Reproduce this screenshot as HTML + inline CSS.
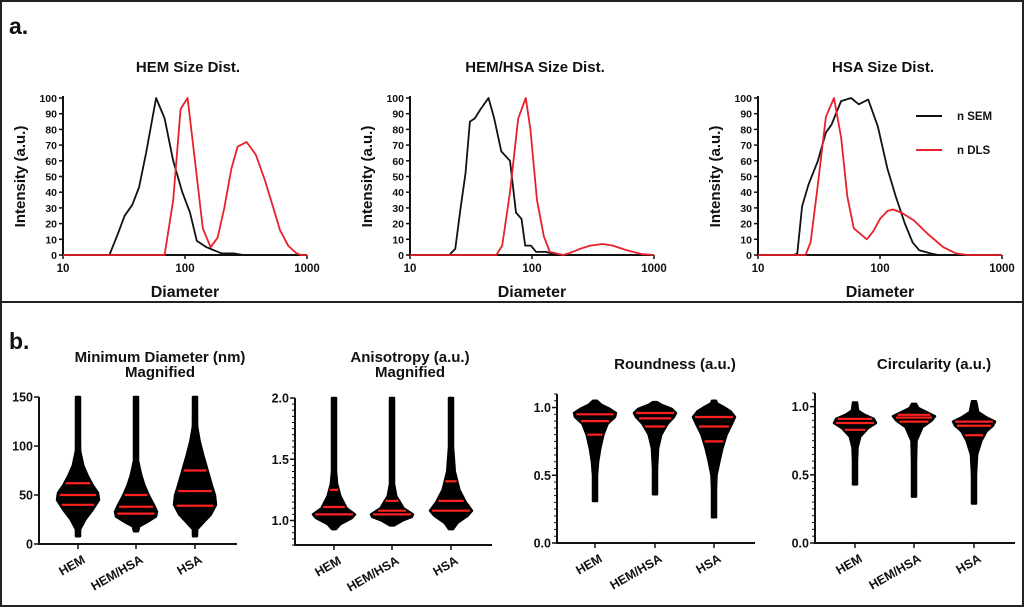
<!DOCTYPE html>
<html><head><meta charset="utf-8">
<style>
html,body{margin:0;padding:0;background:#fff;}
svg{display:block;font-family:"Liberation Sans",Arial,sans-serif;}
text{font-weight:bold;fill:#111;}
</style></head>
<body>
<svg id="fig" width="1024" height="607" viewBox="0 0 1024 607" xmlns="http://www.w3.org/2000/svg">
  <rect x="1" y="1" width="1022" height="605" fill="none" stroke="#222" stroke-width="2"/>
  <line x1="0" y1="302" x2="1024" y2="302" stroke="#222" stroke-width="2"/>
  <text x="9" y="34" font-size="23">a.</text>
  <text x="9" y="349" font-size="23">b.</text>
  <g id="topg"></g>
  <g id="botg"></g>
</svg>
<script>
// ---- Size distribution data ----
const xTickLabels = ["10","100","1000"];
const yTickLabels = [0,10,20,30,40,50,60,70,80,90,100];
const chartTitles = ["HEM Size Dist.","HEM/HSA Size Dist.","HSA Size Dist."];
const hemSemDiam = [10,24,28,32,37,42,48,58,68,80,95,110,125,150,200,250,300,1000];
const hemSemInt  = [0,0,13,25,32,43,65,100,87,60,40,27,9,5,1,1,0,0];
const hemDlsDiam = [10,68,80,92,105,125,140,162,185,210,240,270,320,380,450,520,600,700,820,900,1000];
const hemDlsInt  = [0,0,35,93,100,50,17,5,11,30,55,69,72,64,48,32,16,6,1,0,0];
const mixSemDiam = [10,21,23.5,26,28.5,31,34,38,44,49,56,66,74,82,88,98,108,130,160,1000];
const mixSemInt  = [0,0,4,30,52,85,87,93,100,87,66,60,27,23,6,6,2,2,0,0];
const mixDlsDiam = [10,51,57,66,77,89,97,110,125,140,180,200,250,300,380,460,600,800,1000];
const mixDlsInt  = [0,0,6,40,87,100,80,35,12,2,0,1,4,6,7,6,3,0.5,0];
const hsaSemDiam = [10,19.7,21,23,26,31,36,40,48,58,67,80,96,115,135,160,185,210,260,300,1000];
const hsaSemInt  = [0,0,1,31,45,60,78,83,98,100,96,99,82,55,37,20,8,3,1,0,0];
const hsaDlsDiam = [10,24.5,27,31,36,42,48,54,61,78,88,100,115,128,150,190,250,330,420,520,1000];
const hsaDlsInt  = [0,0,8,45,88,100,75,37,17,10,15,23,28,29,27,22,13,5,1,0,0];
const legendLabels = ["n SEM","n DLS"];

// ---- Violin data ----
const groups = ["HEM","HEM/HSA","HSA"];
const violinTitles = [["Minimum Diameter (nm)","Magnified"],["Anisotropy (a.u.)","Magnified"],["Roundness (a.u.)"],["Circularity (a.u.)"]];
const minDiamTicks = [0,50,100,150];
const anisoTicks = [1.0,1.5,2.0];
const roundTicks = [0.0,0.5,1.0];
const circTicks = [0.0,0.5,1.0];
const minDiamQuart = [[40,50,62],[31,38,50],[39,54,75]];
const anisoQuart = [[1.05,1.11,1.25],[1.05,1.08,1.16],[1.08,1.16,1.32]];
const roundQuart = [[0.80,0.90,0.95],[0.86,0.92,0.96],[0.75,0.86,0.93]];
const circQuart = [[0.83,0.88,0.91],[0.89,0.92,0.94],[0.79,0.86,0.89]];
const minDiamDens = [
 [[8,0],[15,0.1],[25,0.35],[35,0.7],[45,1],[52,0.95],[60,0.7],[70,0.45],[80,0.25],[95,0.1],[105,0.05],[120,0.03],[150,0.02]],
 [[13,0],[18,0.15],[22,0.5],[28,0.95],[33,1],[40,0.85],[50,0.6],[60,0.4],[70,0.25],[85,0.08],[100,0.03],[150,0.02]],
 [[8,0],[15,0.1],[22,0.4],[30,0.75],[40,1],[50,0.95],[60,0.8],[75,0.6],[90,0.4],[105,0.22],[120,0.1],[135,0.05],[150,0.03]]];
const anisoDens = [
 [[0.93,0],[0.97,0.3],[1.02,0.85],[1.05,1],[1.1,0.6],[1.2,0.3],[1.3,0.15],[1.4,0.08],[1.6,0.04],[2.0,0.02]],
 [[0.96,0],[1.0,0.5],[1.03,0.95],[1.05,1],[1.1,0.55],[1.2,0.2],[1.3,0.08],[1.5,0.04],[2.0,0.02]],
 [[0.93,0],[0.98,0.3],[1.04,0.8],[1.08,1],[1.15,0.7],[1.25,0.4],[1.4,0.18],[1.6,0.08],[1.8,0.04],[2.0,0.02]]];
const roundDens = [
 [[0.31,0.02],[0.5,0.05],[0.6,0.15],[0.7,0.25],[0.8,0.4],[0.88,0.6],[0.93,0.95],[0.96,1],[0.99,0.7],[1.02,0.3],[1.05,0.05]],
 [[0.36,0.02],[0.55,0.08],[0.7,0.15],[0.8,0.3],[0.88,0.6],[0.93,0.9],[0.96,1],[0.99,0.8],[1.02,0.3],[1.04,0.05]],
 [[0.19,0.02],[0.4,0.05],[0.5,0.12],[0.6,0.25],[0.7,0.4],[0.8,0.6],[0.88,0.85],[0.93,1],[0.97,0.8],[1.0,0.5],[1.03,0.15],[1.05,0.05]]];
const circDens = [
 [[0.43,0.02],[0.6,0.06],[0.7,0.12],[0.78,0.25],[0.84,0.6],[0.88,1],[0.91,0.9],[0.94,0.45],[0.97,0.15],[1.03,0.03]],
 [[0.34,0.02],[0.6,0.05],[0.75,0.12],[0.85,0.4],[0.9,0.85],[0.93,1],[0.96,0.6],[0.99,0.2],[1.02,0.04]],
 [[0.29,0.02],[0.5,0.05],[0.65,0.15],[0.75,0.35],[0.82,0.6],[0.86,0.9],[0.89,1],[0.92,0.6],[0.96,0.2],[1.04,0.03]]];

const NS="http://www.w3.org/2000/svg";
function mk(tag, attrs, parent, txt){
  const e=document.createElementNS(NS,tag);
  for(const k in attrs) e.setAttribute(k,attrs[k]);
  if(txt!==undefined) e.textContent=txt;
  parent.appendChild(e); return e;
}
const topG=document.getElementById('topg');
const botG=document.getElementById('botg');

// ---- Top charts ----
const topOrigins=[63,410,758];
const series=[[hemSemDiam,hemSemInt,hemDlsDiam,hemDlsInt],[mixSemDiam,mixSemInt,mixDlsDiam,mixDlsInt],[hsaSemDiam,hsaSemInt,hsaDlsDiam,hsaDlsInt]];
const Y0=255, Y100=98, DEC=122;
topOrigins.forEach((x0,ci)=>{
  const g=mk('g',{},topG);
  
  
  const xs=d=>x0+(Math.log10(d)-1)*DEC;
  const ys=v=>Y0-(v/100)*(Y0-Y100);
  const t=mk('text',{x:x0+125,y:72,'font-size':15,'text-anchor':'middle'},g,chartTitles[ci]);
  
  
  const ax=mk('path',{d:`M${x0},${Y100-2}V${Y0}H${x0+2*DEC}`,fill:'none',stroke:'#111','stroke-width':2},g);
  
  
  yTickLabels.forEach(v=>{
    mk('line',{x1:x0-4,x2:x0,y1:ys(v),y2:ys(v),stroke:'#111','stroke-width':1.5},g);
    const l=mk('text',{x:x0-6,y:ys(v)+4,'font-size':10.5,'text-anchor':'end'},g,String(v));
    
    
  });
  xTickLabels.forEach((s,i)=>{
    const xx=x0+i*DEC;
    mk('line',{x1:xx,x2:xx,y1:Y0,y2:Y0+4,stroke:'#111','stroke-width':1.5},g);
    const l=mk('text',{x:xx,y:Y0+17,'font-size':11.5,'text-anchor':'middle'},g,s);
    
    
  });
  const xt=mk('text',{x:x0+122,y:297,'font-size':16,'text-anchor':'middle'},g,'Diameter');
  
  
  const yt=mk('text',{x:0,y:0,'font-size':15,'text-anchor':'middle',transform:`translate(${x0-38},${(Y0+Y100)/2}) rotate(-90)`},g,'Intensity (a.u.)');
  
  
  const s=series[ci];
  [[s[0],s[1],'#111','sem'],[s[2],s[3],'#e8202a','dls']].forEach(([dx,iy,col,nm])=>{
    const d=dx.map((v,i)=>(i?'L':'M')+xs(v).toFixed(1)+','+ys(iy[i]).toFixed(1)).join('');
    const p=mk('path',{d:d,fill:'none',stroke:col,'stroke-width':1.8,'stroke-linejoin':'round'},g);
    
    
  });
});
// legend
[['#111',116],['#e8202a',150]].forEach(([c,y],i)=>{
  const lg=mk('g',{},topG);
  
  
  mk('line',{x1:916,x2:942,y1:y,y2:y,stroke:c,'stroke-width':2},lg);
  mk('text',{x:957,y:y+4,'font-size':11.5},lg,legendLabels[i]);
});

// ---- Violins ----
const vcharts=[
 {ax:39,top:397,bot:544,vmin:0,vmax:150,xend:237,cx:[78,136,195],ticks:minDiamTicks,fmt:v=>String(v),dens:minDiamDens,q:minDiamQuart,tx:160,ty:[362,377],minor:0},
 {ax:295,top:398,bot:545,vmin:0.8,vmax:2.0,xend:492,cx:[334,392,451],ticks:anisoTicks,fmt:v=>v.toFixed(1),dens:anisoDens,q:anisoQuart,tx:410,ty:[362,377],minor:0.05},
 {ax:557,top:394,bot:543,vmin:0,vmax:1.1,xend:755,cx:[595,655,714],ticks:roundTicks,fmt:v=>v.toFixed(1),dens:roundDens,q:roundQuart,tx:675,ty:[369],minor:0.05},
 {ax:815,top:393,bot:543,vmin:0,vmax:1.1,xend:1015,cx:[855,914,974],ticks:circTicks,fmt:v=>v.toFixed(1),dens:circDens,q:circQuart,tx:934,ty:[369],minor:0.05}
];
const names=['min-diameter','anisotropy','roundness','circularity'];
vcharts.forEach((c,ci)=>{
  const g=mk('g',{},botG);
  
  
  const ys=v=>c.bot-(v-c.vmin)/(c.vmax-c.vmin)*(c.bot-c.top);
  violinTitles[ci].forEach((t,i)=>{
    const e=mk('text',{x:c.tx,y:c.ty[i],'font-size':15,'text-anchor':'middle'},g,t);
    
    
  });
  const ax=mk('path',{d:`M${c.ax},${c.top}V${c.bot}H${c.xend}`,fill:'none',stroke:'#111','stroke-width':2},g);
  
  
  if(c.minor){
    for(let v=c.vmin;v<=c.vmax+1e-9;v+=c.minor){
      mk('line',{x1:c.ax-3,x2:c.ax,y1:ys(v),y2:ys(v),stroke:'#111','stroke-width':1},g);
    }
  }
  c.ticks.forEach(v=>{
    mk('line',{x1:c.ax-5,x2:c.ax,y1:ys(v),y2:ys(v),stroke:'#111','stroke-width':1.5},g);
    const l=mk('text',{x:c.ax-6,y:ys(v)+4.5,'font-size':12.5,'text-anchor':'end'},g,c.fmt(v));
    
    
  });
  groups.forEach((gn,gi)=>{
    const cx=c.cx[gi];
    mk('line',{x1:cx,x2:cx,y1:c.bot,y2:c.bot+5,stroke:'#111','stroke-width':1.5},g);
    const l=mk('text',{x:0,y:0,'font-size':12.5,'text-anchor':'end',transform:`translate(${cx+8},${c.bot+18}) rotate(-30)`},g,gn);
    
    
    const dens=c.dens[gi];
    const MAXW=21;
    const hw=f=>Math.max(2,f*MAXW);
    const right=dens.map(([v,f])=>[cx+hw(f),ys(v)]);
    const left=dens.slice().reverse().map(([v,f])=>[cx-hw(f),ys(v)]);
    const pts=right.concat(left);
    const p=mk('path',{d:'M'+pts.map(p=>p[0].toFixed(1)+','+p[1].toFixed(1)).join('L')+'Z',fill:'#000',stroke:'#000','stroke-width':2.5,'stroke-linejoin':'round'},g);
    
    
    const widthAt=v=>{
      for(let i=0;i<dens.length-1;i++){
        if(v>=dens[i][0]&&v<=dens[i+1][0]){
          const t=(v-dens[i][0])/(dens[i+1][0]-dens[i][0]);
          return hw(dens[i][1]+t*(dens[i+1][1]-dens[i][1]));
        }
      }
      return 2;
    };
    c.q[gi].forEach(v=>{
      const w=Math.max(3,widthAt(v)*0.9);
      const q=mk('line',{x1:cx-w,x2:cx+w,y1:ys(v),y2:ys(v),stroke:'#ff2020','stroke-width':2.2},g);
      
      
    });
  });
});
</script>
</body></html>
